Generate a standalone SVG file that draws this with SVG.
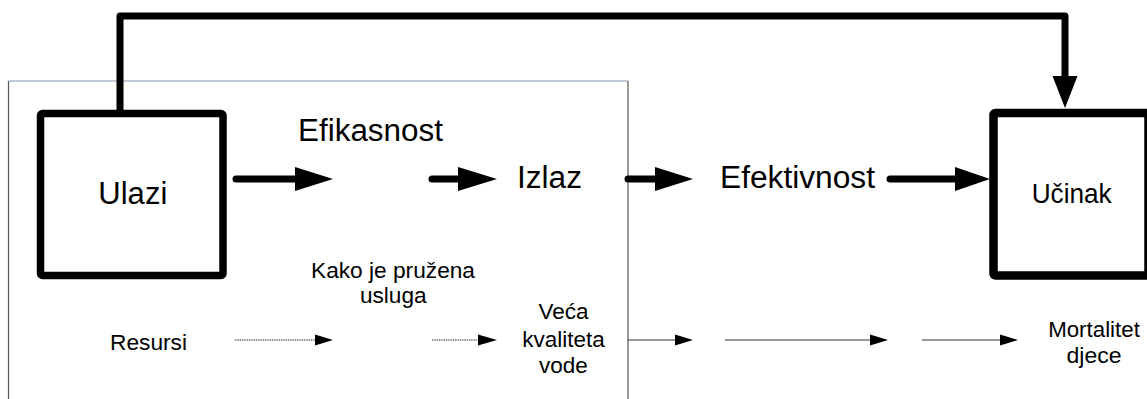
<svg xmlns="http://www.w3.org/2000/svg" width="1147" height="399" viewBox="0 0 1147 399">
<style>
.t{font-family:"Liberation Sans",Arial,sans-serif;fill:#000}
.big{font-size:31px}
.sm{font-size:21.5px}
.thick{fill:none;stroke:#000;stroke-width:7;stroke-linecap:round;stroke-linejoin:round}
.thin{fill:none;stroke:#333;stroke-width:1.2}
.dot{fill:none;stroke:#777;stroke-width:1.3;stroke-dasharray:1.5 0.8}
.box{fill:#fff;stroke:#000;stroke-linejoin:round}
</style>
<rect width="1147" height="399" fill="#fff"/>
<g id="frame">
<path d="M8.5,410 L8.5,81 M628,81 L628,410" fill="none" stroke="#555" stroke-width="1.2"/>
<line x1="8.5" y1="81" x2="628" y2="81" stroke="#7f93b2" stroke-width="1.2"/>
</g>
<g id="connectors">
<path class="thick" d="M120,110 L120,16 L1065,16 L1065,84" stroke-width="6"/>
<path d="M1052.5,76 L1077.5,76 L1065,108 Z" fill="#000"/>
<line class="thick" x1="236" y1="179" x2="300" y2="179"/><path d="M295,167 L333,179 L295,191 Z"/>
<line class="thick" x1="432" y1="179" x2="462" y2="179"/><path d="M458,167 L497,179 L458,191 Z"/>
<line class="thick" x1="628" y1="179" x2="660" y2="179"/><path d="M655,167 L693,179 L655,191 Z"/>
<line class="thick" x1="890" y1="179" x2="960" y2="179"/><path d="M955,167 L990,179 L955,191 Z"/>
<line class="dot" x1="235" y1="340" x2="316" y2="340"/><path d="M315,334.5 L333,340 L315,345.5 Z"/>
<line class="dot" x1="432" y1="340" x2="479" y2="340"/><path d="M478,334.5 L497,340 L478,345.5 Z"/>
<line class="thin" x1="628" y1="340" x2="676" y2="340"/><path d="M675,334.5 L693,340 L675,345.5 Z"/>
<line class="thin" x1="725" y1="340" x2="871" y2="340"/><path d="M870,334.5 L888,340 L870,345.5 Z"/>
<line class="thin" x1="922" y1="340" x2="1001" y2="340"/><path d="M1000,334.5 L1018,340 L1000,345.5 Z"/>
</g>
<g id="ulazi">
<rect class="box" x="40.5" y="113.5" width="182.5" height="162" rx="2" stroke-width="7.5"/>
<text class="t big" x="132.8" y="204.3" text-anchor="middle" textLength="69" lengthAdjust="spacingAndGlyphs">Ulazi</text>
</g>
<g id="ucinak">
<rect class="box" x="993.5" y="113" width="155" height="162.5" rx="2" stroke-width="8.5"/>
<text class="t" x="1071.7" y="203.3" text-anchor="middle" font-size="27.5" textLength="80" lengthAdjust="spacingAndGlyphs">Učinak</text>
</g>
<g id="efikasnost">
<text class="t big" x="298" y="141" textLength="145" lengthAdjust="spacingAndGlyphs">Efikasnost</text>
</g>
<g id="izlaz">
<text class="t big" x="517" y="188.3" textLength="65" lengthAdjust="spacingAndGlyphs">Izlaz</text>
</g>
<g id="efektivnost">
<text class="t big" x="720" y="188.3" textLength="155" lengthAdjust="spacingAndGlyphs">Efektivnost</text>
</g>
<g id="resursi">
<text class="t sm" x="110" y="350" textLength="77" lengthAdjust="spacingAndGlyphs">Resursi</text>
</g>
<g id="kako">
<text class="t sm" text-anchor="middle"><tspan x="393" y="278.3" textLength="164" lengthAdjust="spacingAndGlyphs">Kako je pružena</tspan><tspan x="393.3" y="303.3" textLength="66.7" lengthAdjust="spacingAndGlyphs">usluga</tspan></text>
</g>
<g id="veca">
<text class="t" font-size="22.5" text-anchor="middle"><tspan x="563.5" y="319.3">Veća</tspan><tspan x="563.5" y="346.7">kvaliteta</tspan><tspan x="563.5" y="373.3">vode</tspan></text>
</g>
<g id="mortalitet">
<text class="t sm" text-anchor="middle"><tspan x="1094" y="336.7" textLength="91.7" lengthAdjust="spacingAndGlyphs">Mortalitet</tspan><tspan x="1094" y="363.3" textLength="55" lengthAdjust="spacingAndGlyphs">djece</tspan></text>
</g>
</svg>
